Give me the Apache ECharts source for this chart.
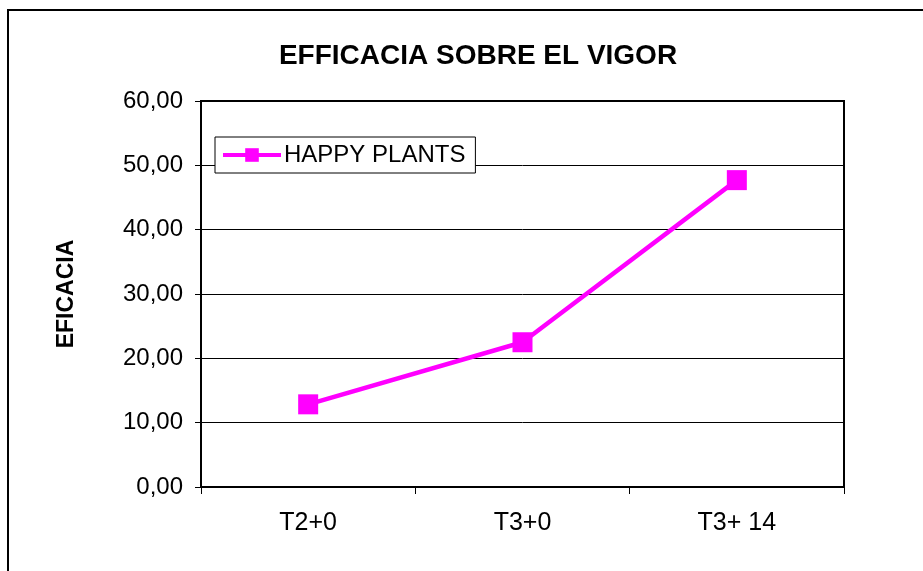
<!DOCTYPE html>
<html>
<head>
<meta charset="utf-8">
<script src="https://cdn.jsdelivr.net/npm/echarts@6/dist/echarts.min.js"></script>
<style>
  html, body { margin: 0; padding: 0; background: #fff; }
  #main { width: 923px; height: 571px; }
</style>
</head>
<body>
<div id="main"></div>
<script>
var chartDom = document.getElementById('main');
var myChart = echarts.init(chartDom);
var option;

// data
var categories = ['T2+0', 'T3+0', 'T3+ 14'];
var happyPlants = [12.85, 22.5, 47.7];
var seriesName = 'HAPPY PLANTS';

var font = 'Arial, "Liberation Sans", sans-serif';

option = {
    animation: false,
    backgroundColor: '#fff',
    title: {
        text: 'EFFICACIA SOBRE EL VIGOR',
        left: 473,
        textAlign: 'center',
        top: 37,
        textStyle: { fontFamily: font, fontSize: 28, fontWeight: 'bold', color: '#000' }
    },
    // outer chart frame (only left/top visible in the picture)
    graphic: [{
        type: 'rect',
        shape: { x: 8, y: 10, width: 940, height: 600 },
        style: { fill: 'none', stroke: '#000', lineWidth: 2 },
        z: 100
    }],
    legend: {
        left: 215,
        top: 137,
        padding: [6, 10, 6, 6],
        backgroundColor: '#fff',
        borderColor: '#000',
        borderWidth: 1,
        borderRadius: 0,
        itemWidth: 58,
        itemHeight: 17,
        itemGap: 4,
        lineStyle: { width: 4 },
        textStyle: { fontFamily: font, fontSize: 24, color: '#000', padding: [0, 0, 0, -2] },
        data: [seriesName]
    },
    grid: {
        left: 201,
        right: 79,
        top: 101,
        bottom: 84,
        show: true,
        borderColor: '#000',
        borderWidth: 2
    },
    xAxis: {
        type: 'category',
        data: categories,
        boundaryGap: true,
        axisLine: { lineStyle: { color: '#000', width: 2 } },
        axisTick: { show: true, length: 7, lineStyle: { color: '#000', width: 1 } },
        axisLabel: { fontFamily: font, fontSize: 25, color: '#000', margin: 24 }
    },
    yAxis: {
        type: 'value',
        min: 0,
        max: 60,
        interval: 10,
        name: 'EFICACIA',
        nameLocation: 'middle',
        nameGap: 123,
        nameRotate: 90,
        nameTextStyle: { fontFamily: font, fontSize: 23, fontWeight: 'bold', color: '#000' },
        axisLine: { show: true, lineStyle: { color: '#000', width: 2 } },
        axisTick: { show: true, length: 6, lineStyle: { color: '#000', width: 1 } },
        splitLine: { show: true, lineStyle: { color: '#000', width: 1 } },
        axisLabel: {
            fontFamily: font, fontSize: 24, color: '#000', margin: 18,
            formatter: function (v) { return v.toFixed(2).replace('.', ','); }
        }
    },
    series: [
        {
            name: seriesName,
            type: 'line',
            data: happyPlants,
            symbol: 'rect',
            symbolSize: 20,
            lineStyle: { color: '#ff00ff', width: 4.5 },
            itemStyle: { color: '#ff00ff', borderWidth: 0 },
            z: 5
        }
    ]
};

option && myChart.setOption(option);
</script>
</body>
</html>
